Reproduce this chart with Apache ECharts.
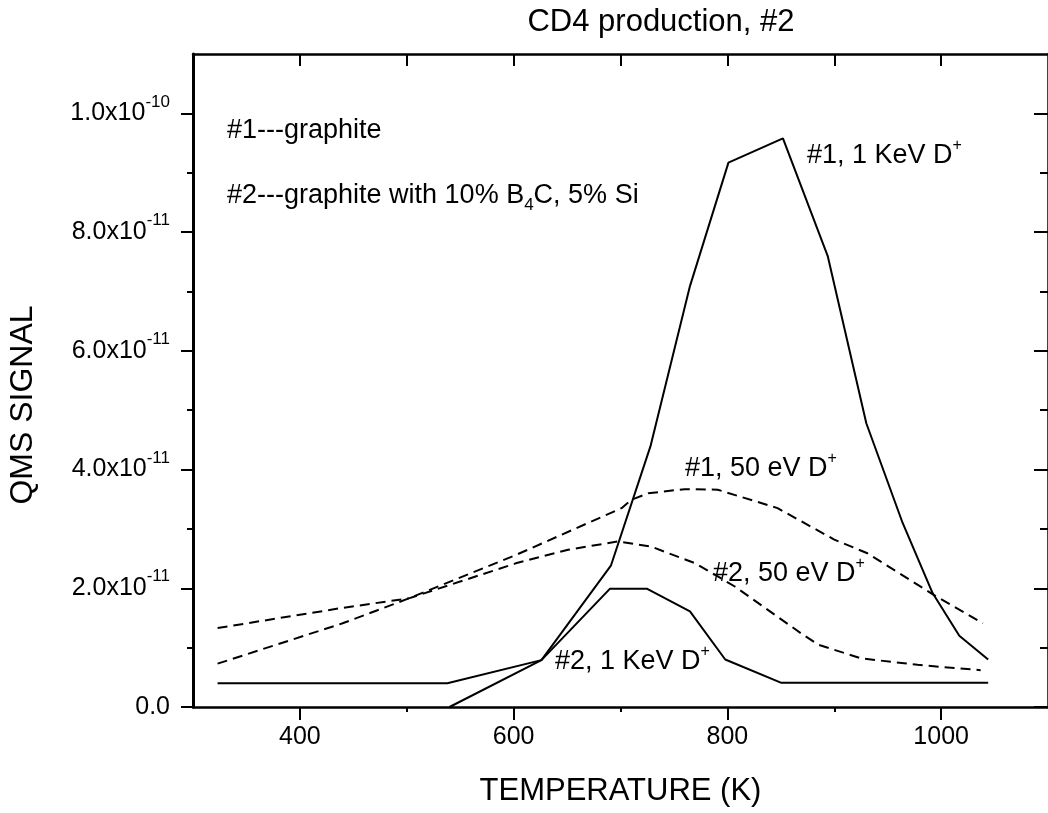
<!DOCTYPE html>
<html><head><meta charset="utf-8">
<script src="https://cdn.jsdelivr.net/npm/echarts@6/dist/echarts.min.js"></script>
<style>html,body{margin:0;padding:0;background:#fff}#c{width:1048px;height:813px}</style>
</head><body><div id="c"></div>
<script>
const FONT = '"Liberation Sans", Arial, Helvetica, sans-serif';

// Temperatures (K) and QMS signal in units of 1e-11
const g1_1keV_T = [540, 626, 691, 728, 765, 801, 852, 894, 930, 964, 992, 1017, 1044];
const g1_1keV_V = [0.0, 0.79, 2.38, 4.39, 7.09, 9.17, 9.58, 7.59, 4.78, 3.10, 1.92, 1.20, 0.80];

const g2_1keV_T = [323, 538, 626, 690, 725, 765, 798, 850, 1044];
const g2_1keV_V = [0.40, 0.40, 0.79, 1.99, 1.99, 1.61, 0.80, 0.41, 0.41];

const g1_50eV_T = [323, 440, 502, 602, 701, 710, 726, 760, 791, 847, 900, 931, 993, 1039];
const g1_50eV_V = [0.73, 1.41, 1.83, 2.56, 3.35, 3.49, 3.60, 3.67, 3.66, 3.35, 2.82, 2.59, 1.89, 1.41];

const g2_50eV_T = [323, 440, 502, 602, 651, 698, 729, 770, 807, 869, 885, 925, 978, 1037];
const g2_50eV_V = [1.33, 1.67, 1.83, 2.42, 2.65, 2.79, 2.70, 2.42, 2.03, 1.24, 1.05, 0.82, 0.71, 0.62];

const xMajorTicks = [400, 600, 800, 1000];
const xMinorTicks = [500, 700, 900];
const xTopTicks = [400, 500, 600, 700, 800, 900, 1000];
const yMajorTicks = [0, 2, 4, 6, 8, 10];
const yMinorTicks = [1, 3, 5, 7, 9];
const yTickMantissa = ['0.0', '2.0x10', '4.0x10', '6.0x10', '8.0x10', '1.0x10'];
const yTickExponent = ['', '-11', '-11', '-11', '-11', '-10'];

function pairs(t, v) { return t.map((x, i) => [x, v[i]]); }
function yTickIndex(v) {
  for (let i = 0; i < yMajorTicks.length; i++) {
    if (Math.abs(yMajorTicks[i] - v) < 1e-9) return i;
  }
  return -1;
}

const chart = echarts.init(document.getElementById('c'), null, {renderer: 'canvas'});

const tickStyle = {color: '#000', width: 2};
const axisLineStyle = {color: '#000', width: 2.5};
const gridRect = {left: 193, top: 54, width: 858, height: 653};

const richAnn = {
  m: {fontSize: 27, fontFamily: FONT, lineHeight: 36, fill: '#000'},
  sup: {fontSize: 16, fontFamily: FONT, lineHeight: 15, verticalAlign: 'top', fill: '#000'},
  sub: {fontSize: 17, fontFamily: FONT, lineHeight: 24, verticalAlign: 'bottom', fill: '#000'}
};
function ann(text, x, y) {
  return {type: 'text', x: x, y: y, silent: true,
    style: {text: text, rich: richAnn, textAlign: 'left', textVerticalAlign: 'middle', fill: '#000'}};
}

const solid = {color: '#000', width: 2, type: 'solid'};
const dashed = {color: '#000', width: 2, type: [10, 6]};

chart.setOption({
  animation: false,
  backgroundColor: '#fff',
  title: {text: 'CD4 production, #2', left: 661, top: 7, padding: 0, textAlign: 'center',
    textStyle: {fontSize: 31, fontWeight: 'normal', color: '#000', fontFamily: FONT}},
  grid: [Object.assign({}, gridRect), Object.assign({}, gridRect)],
  xAxis: [
    {gridIndex: 0, type: 'value', position: 'bottom', min: 300, max: 1100, interval: 100,
      axisLine: {show: true, onZero: false, lineStyle: axisLineStyle},
      axisTick: {show: true, customValues: xMajorTicks, length: 13, lineStyle: tickStyle},
      axisLabel: {customValues: xMajorTicks, fontSize: 25, fontFamily: FONT, color: '#000', margin: 18,
        formatter: function (v) { return String(v); }},
      splitLine: {show: false},
      name: 'TEMPERATURE (K)', nameLocation: 'middle', nameGap: 69,
      nameTextStyle: {fontSize: 31, fontFamily: FONT, color: '#000', lineHeight: 31}},
    {gridIndex: 0, type: 'value', position: 'top', min: 300, max: 1100, interval: 100,
      axisLine: {show: true, onZero: false, lineStyle: axisLineStyle},
      axisTick: {show: true, inside: true, customValues: xTopTicks, length: 12, lineStyle: tickStyle},
      axisLabel: {show: false}, splitLine: {show: false}},
    {gridIndex: 1, type: 'value', position: 'bottom', min: 300, max: 1100, interval: 100,
      axisLine: {show: false},
      axisTick: {show: true, customValues: xMinorTicks, length: 5, lineStyle: tickStyle},
      axisLabel: {show: false}, splitLine: {show: false}}
  ],
  yAxis: [
    {gridIndex: 0, type: 'value', position: 'left', min: 0, max: 11, interval: 1,
      axisLine: {show: true, onZero: false, lineStyle: {color: '#000', width: 3}},
      axisTick: {show: true, customValues: yMajorTicks, length: 12, lineStyle: tickStyle},
      axisLabel: {customValues: yMajorTicks, margin: 23,
        formatter: function (v) {
          const i = yTickIndex(v);
          if (i < 0) return '';
          return '{m|' + yTickMantissa[i] + '}' + (yTickExponent[i] ? '{s|' + yTickExponent[i] + '}' : '');
        },
        rich: {
          m: {fontSize: 25, fontFamily: FONT, color: '#000', lineHeight: 40},
          s: {fontSize: 17, fontFamily: FONT, color: '#000', lineHeight: 17, verticalAlign: 'top'}
        }},
      splitLine: {show: false}},
    {gridIndex: 0, type: 'value', position: 'right', min: 0, max: 11, interval: 1,
      axisLine: {show: true, onZero: false, lineStyle: axisLineStyle},
      axisTick: {show: true, inside: true, customValues: yMajorTicks, length: 14, lineStyle: tickStyle},
      axisLabel: {show: false}, splitLine: {show: false}},
    {gridIndex: 1, type: 'value', position: 'left', min: 0, max: 11, interval: 1,
      axisLine: {show: false},
      axisTick: {show: true, customValues: yMinorTicks, length: 6, lineStyle: tickStyle},
      axisLabel: {show: false}, splitLine: {show: false}},
    {gridIndex: 1, type: 'value', position: 'right', min: 0, max: 11, interval: 1,
      axisLine: {show: false},
      axisTick: {show: true, inside: true, customValues: yMinorTicks, length: 8, lineStyle: tickStyle},
      axisLabel: {show: false}, splitLine: {show: false}}
  ],
  series: [
    {name: '#1, 1 KeV D+', type: 'line', xAxisIndex: 0, yAxisIndex: 0, showSymbol: false,
      data: pairs(g1_1keV_T, g1_1keV_V), lineStyle: solid},
    {name: '#2, 1 KeV D+', type: 'line', xAxisIndex: 0, yAxisIndex: 0, showSymbol: false,
      data: pairs(g2_1keV_T, g2_1keV_V), lineStyle: solid},
    {name: '#1, 50 eV D+', type: 'line', xAxisIndex: 0, yAxisIndex: 0, showSymbol: false,
      data: pairs(g1_50eV_T, g1_50eV_V), lineStyle: dashed},
    {name: '#2, 50 eV D+', type: 'line', xAxisIndex: 0, yAxisIndex: 0, showSymbol: false,
      data: pairs(g2_50eV_T, g2_50eV_V), lineStyle: dashed}
  ],
  graphic: [
    {type: 'text', x: 23, y: 405, rotation: Math.PI / 2, silent: true,
      style: {text: 'QMS SIGNAL', fontSize: 32, fontFamily: FONT, fill: '#000',
        textAlign: 'center', textVerticalAlign: 'middle'}},
    ann('{m|#1---graphite}', 227, 131),
    ann('{m|#2---graphite with 10% B}{sub|4}{m|C, 5% Si}', 227, 196),
    ann('{m|#1, 1 KeV D}{sup|+}', 807, 156),
    ann('{m|#1, 50 eV D}{sup|+}', 685, 469),
    ann('{m|#2, 50 eV D}{sup|+}', 713, 574),
    ann('{m|#2, 1 KeV D}{sup|+}', 555, 662)
  ]
});
</script>
</body></html>
